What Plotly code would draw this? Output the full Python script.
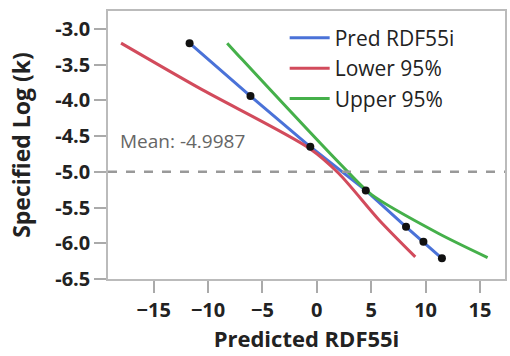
import plotly.graph_objects as go

# Fitted prediction points (Predicted RDF55i vs Specified Log(k))
pred_x = [-11.7, -6.1, -0.6, 4.5, 8.2, 9.8, 11.5]
pred_y = [-3.2, -3.94, -4.65, -5.26, -5.77, -5.98, -6.21]

# Lower 95% limit curve
lower_x = [-18.0, -10.8, -0.7, 2.0, 5.7, 9.05]
lower_y = [-3.2, -3.83, -4.67, -5.02, -5.67, -6.19]

# Upper 95% limit curve
upper_x = [-8.24, -6.86, 2.65, 5.03, 11.15, 15.7]
upper_y = [-3.2, -3.43, -4.97, -5.32, -5.86, -6.2]

mean_value = -4.9987

x_ticks = [-15, -10, -5, 0, 5, 10, 15]
y_ticks = [-6.5, -6.0, -5.5, -5.0, -4.5, -4.0, -3.5, -3.0]

BLUE = "#4a72d8"
RED = "#d24b5c"
GREEN = "#45b04a"
FONT = "Open Sans"

fig = go.Figure()

fig.add_trace(go.Scatter(
    x=pred_x, y=pred_y, mode="lines", name="Pred RDF55i",
    line=dict(color=BLUE, width=3)))
fig.add_trace(go.Scatter(
    x=lower_x, y=lower_y, mode="lines", name="Lower 95%",
    line=dict(color=RED, width=3, shape="spline", smoothing=0.8)))
fig.add_trace(go.Scatter(
    x=upper_x, y=upper_y, mode="lines", name="Upper 95%",
    line=dict(color=GREEN, width=3, shape="spline", smoothing=0.8)))
fig.add_trace(go.Scatter(
    x=pred_x, y=pred_y, mode="markers", showlegend=False,
    marker=dict(color="#111111", size=8)))

# Mean reference line
fig.add_hline(y=mean_value, line=dict(color="#999999", width=2.5, dash="dash"))
fig.add_annotation(
    x=0, xref="paper", y=mean_value, yref="y",
    text=f"Mean: {mean_value}", showarrow=False,
    xanchor="left", yanchor="bottom", xshift=10, yshift=16,
    font=dict(family=FONT, size=19, color="#666666"))

fig.update_layout(
    width=510, height=356,
    margin=dict(l=108, r=3, t=11, b=77),
    paper_bgcolor="white", plot_bgcolor="white",
    font=dict(family=FONT, color="#222222"),
    showlegend=True,
    legend=dict(x=0.445, y=0.975, xanchor="left", yanchor="top",
                bgcolor="rgba(0,0,0,0)", font=dict(size=21, color="#222222"),
                itemwidth=40, tracegroupgap=0),
)

axis_common = dict(
    showgrid=False, zeroline=False,
    showline=True, mirror=True, linecolor="#bbbbbb", linewidth=1.5,
    ticks="outside", ticklen=12, tickcolor="#aaaaaa", tickwidth=1.5,
    tickfont=dict(family=FONT, size=20, color="#222222", weight="bold"),
)

fig.update_xaxes(
    range=[-19.2, 17.3], tickvals=x_ticks,
    title=dict(text="<b>Predicted RDF55i</b>", font=dict(size=22, color="#222222"), standoff=3),
    **axis_common)
fig.update_yaxes(
    range=[-6.5, -2.75], tickvals=y_ticks,
    ticktext=[f"{v:.1f}" for v in y_ticks],
    title=dict(text="<b>Specified Log (k)</b>", font=dict(size=23, color="#222222"), standoff=18),
    **axis_common)

fig.write_html("out.html")
